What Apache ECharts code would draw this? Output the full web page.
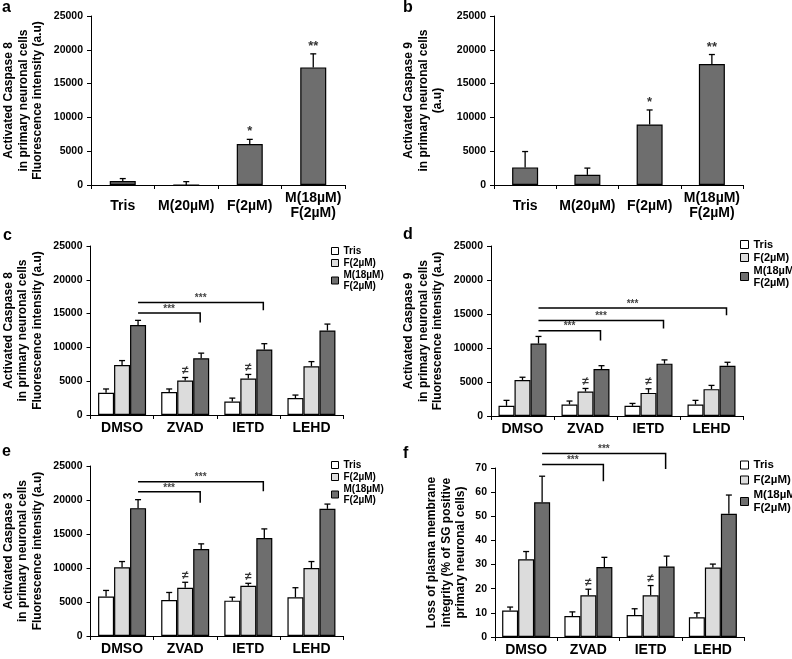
<!DOCTYPE html>
<html>
<head>
<meta charset="utf-8">
<script src="https://cdn.jsdelivr.net/npm/echarts@6/dist/echarts.min.js"></script>
<style>html,body{margin:0;padding:0;background:#fff;}#chart{width:792px;height:659px;}</style>
</head>
<body>
<div id="chart"></div>
<script>
// ---------- data ----------
const abCats = ['Tris', 'M(20µM)', 'F(2µM)', 'M(18µM)\nF(2µM)'];
const groupCats = ['DMSO', 'ZVAD', 'IETD', 'LEHD'];
const seriesNames = ['Tris', 'F(2µM)', 'M(18µM)\nF(2µM)'];
const casTicks = { min: 0, max: 25000, interval: 5000 };
const pctTicks = { min: 0, max: 70, interval: 10 };

const aVals = [600, 0, 6050, 17400];
const aErr = [350, 500, 700, 2000];
const aStars = ['', '', '*', '**'];
const bVals = [2600, 1500, 8950, 17900];
const bErr = [2350, 1000, 2150, 1400];
const bStars = ['', '', '*', '**'];

const cTris = [3300, 3400, 2000, 2500];
const cTrisErr = [550, 450, 500, 450];
const cF = [7400, 5100, 5400, 7200];
const cFErr = [650, 450, 600, 700];
const cM = [13300, 8400, 9700, 12500];
const cMErr = [700, 750, 850, 950];
const cBrackets = [[1, 15100, 13700], [2, 16650, 15500]];

const dTris = [1500, 1700, 1500, 1700];
const dTrisErr = [800, 500, 350, 600];
const dF = [5300, 3600, 3400, 3950];
const dFErr = [400, 450, 600, 550];
const dM = [10650, 6900, 7700, 7400];
const dMErr = [1050, 500, 550, 500];
const dBrackets = [[1, 12550, 11100], [2, 14050, 12850], [3, 15900, 14800]];

const eTris = [5800, 5300, 5200, 5700];
const eTrisErr = [900, 1100, 500, 1400];
const eF = [10100, 7100, 7400, 10000];
const eFErr = [850, 800, 350, 950];
const eM = [18800, 12800, 14400, 18700];
const eMErr = [1250, 750, 1350, 700];
const eBrackets = [[1, 21200, 19600], [2, 22700, 21300]];

const fTris = [11, 8.7, 9.1, 8.2];
const fTrisErr = [1.4, 1.7, 2.6, 1.8];
const fF = [32.2, 17.3, 17.3, 28.8];
const fFErr = [3.2, 2.5, 4.0, 1.4];
const fM = [55.8, 29.0, 29.2, 51.0];
const fMErr = [10.8, 4.0, 4.3, 7.8];
const fBrackets = [[1, 71.4, 64.5], [2, 76.0, 69.6]];

const neqGroups = [1, 2];

// ---------- style ----------
const FONT = '"Liberation Sans", Arial, sans-serif';
const DARK = '#6e6e6e', LIGHT = '#dcdcdc', WHITE = '#ffffff';
const seriesColors = [WHITE, LIGHT, DARK];
const BW = 16;   // grouped bar width
const BW1 = 26;  // single bar width

const grids = [
  { left: 91, top: 16, width: 254, height: 169 },
  { left: 494, top: 16, width: 249, height: 169 },
  { left: 90, top: 246, width: 253, height: 169 },
  { left: 491, top: 246, width: 252, height: 170 },
  { left: 90, top: 466, width: 253, height: 170 },
  { left: 495, top: 468, width: 249, height: 169 }
];

const yNames = [
  'Activated Caspase 8\nin primary neuronal cells\nFluorescence intensity (a.u)',
  'Activated Caspase 9\nin primary neuronal cells\n(a.u)',
  'Activated Caspase 8\nin primary neuronal cells\nFluorescence intensity (a.u)',
  'Activated Caspase 9\nin primary neuronal cells\nFluorescence intensity (a.u)',
  'Activated Caspase 3\nin primary neuronal cells\nFluorescence intensity (a.u)',
  'Loss of plasma membrane\nintegrity (% of SG positive\nprimary neuronal cells)'
];
const yGaps = [46, 49, 46, 46, 46, 27];
const yTicks = [casTicks, casTicks, casTicks, casTicks, casTicks, pctTicks];

const xAxes = [], yAxes = [], series = [];
for (let i = 0; i < 6; i++) {
  const single = i < 2;
  xAxes.push({
    type: 'category', gridIndex: i, data: single ? abCats : groupCats,
    axisLine: { lineStyle: { color: '#000', width: 1 } },
    axisTick: { show: true, length: 4, lineStyle: { color: '#000' } },
    axisLabel: {
      interval: 0, color: '#000', fontFamily: FONT, fontWeight: 'bold',
      fontSize: 14, lineHeight: 15, verticalAlign: 'middle', margin: single ? 21 : 13
    }
  });
  yAxes.push({
    type: 'value', gridIndex: i, min: yTicks[i].min, max: yTicks[i].max, interval: yTicks[i].interval,
    splitLine: { show: false },
    axisLine: { show: true, lineStyle: { color: '#000', width: 1 } },
    axisTick: { show: true, length: 4, lineStyle: { color: '#000' } },
    axisLabel: { color: '#000', fontFamily: FONT, fontWeight: 'bold', fontSize: 10.5, margin: 8,
      formatter: function (v) { return String(v); } },
    name: yNames[i], nameLocation: 'middle', nameRotate: 90, nameGap: yGaps[i],
    nameTextStyle: { color: '#000', fontFamily: FONT, fontWeight: 'bold', fontSize: 12, lineHeight: 14.5 }
  });
}

function errRender(bw, marks, markSize) {
  return function (params, api) {
    const g = api.value(0), v = api.value(1), e = api.value(2), off = api.value(3);
    const p0 = api.coord([g, v]);
    const p1 = api.coord([g, v + e]);
    const x = p0[0] + off * bw;
    const ch = [
      { type: 'line', shape: { x1: x, y1: p0[1], x2: x, y2: p1[1] }, style: { stroke: '#000', lineWidth: 1.3 } },
      { type: 'line', shape: { x1: x - 3, y1: p1[1], x2: x + 3, y2: p1[1] }, style: { stroke: '#000', lineWidth: 1.3 } }
    ];
    const m = marks[params.dataIndex];
    if (m) {
      ch.push({ type: 'text', style: { text: m, x: x, y: p1[1] - 1, align: 'center', verticalAlign: 'bottom',
        fill: '#333', fontFamily: FONT, fontWeight: 'bold', fontSize: markSize } });
    }
    return { type: 'group', children: ch };
  };
}

function bracketRender(bw) {
  return function (params, api) {
    const t = api.value(0), yl = api.value(1), yd = api.value(2);
    const s = api.coord([0, yl]);
    const e = api.coord([t, yl]);
    const d = api.coord([t, yd]);
    const x0 = s[0] + bw, x1 = e[0] + bw - 1;
    return {
      type: 'group', children: [
        { type: 'polyline', shape: { points: [[x0, s[1]], [x1, s[1]], [x1, d[1]]] }, style: { stroke: '#000', lineWidth: 1.5, fill: null } },
        { type: 'text', style: { text: '***', x: (x0 + x1) / 2, y: s[1] + 1, align: 'center', verticalAlign: 'bottom',
          fill: '#444', fontFamily: FONT, fontWeight: 'bold', fontSize: 10 } }
      ]
    };
  };
}

// single panels a, b
[[aVals, aErr, aStars], [bVals, bErr, bStars]].forEach(function (p, i) {
  series.push({
    type: 'bar', name: 'panel' + i, xAxisIndex: i, yAxisIndex: i, data: p[0], barWidth: BW1,
    itemStyle: { color: DARK, borderColor: '#000', borderWidth: 1.2 }, silent: true
  });
  series.push({
    type: 'custom', name: 'err' + i, xAxisIndex: i, yAxisIndex: i, clip: false, z: 5, silent: true,
    data: p[0].map(function (v, g) { return [g, v, p[1][g], 0]; }),
    renderItem: errRender(BW1, p[2], 13)
  });
});

// grouped panels c-f
const grouped = [
  [[cTris, cF, cM], [cTrisErr, cFErr, cMErr], cBrackets],
  [[dTris, dF, dM], [dTrisErr, dFErr, dMErr], dBrackets],
  [[eTris, eF, eM], [eTrisErr, eFErr, eMErr], eBrackets],
  [[fTris, fF, fM], [fTrisErr, fFErr, fMErr], fBrackets]
];
grouped.forEach(function (p, j) {
  const i = j + 2;
  const errData = [], marks = [];
  for (let k = 0; k < 3; k++) {
    series.push({
      type: 'bar', name: seriesNames[k], xAxisIndex: i, yAxisIndex: i, data: p[0][k],
      barWidth: BW, barGap: '0%', silent: true,
      itemStyle: { color: seriesColors[k], borderColor: '#000', borderWidth: 1.2 }
    });
    for (let g = 0; g < 4; g++) {
      errData.push([g, p[0][k][g], p[1][k][g], k - 1]);
      marks.push(k === 1 && neqGroups.indexOf(g) >= 0 ? '≠' : '');
    }
  }
  series.push({
    type: 'custom', name: 'err' + i, xAxisIndex: i, yAxisIndex: i, clip: false, z: 5, silent: true,
    data: errData, renderItem: errRender(BW, marks, 12)
  });
  series.push({
    type: 'custom', name: 'br' + i, xAxisIndex: i, yAxisIndex: i, clip: false, z: 5, silent: true,
    data: p[2], renderItem: bracketRender(BW)
  });
});

function legendAt(left, top, fs, lh, ih, gap) {
  return {
    data: seriesNames, orient: 'vertical', left: left, top: top, padding: 0,
    icon: 'rect', itemWidth: ih, itemHeight: ih, itemGap: gap, selectedMode: false,
    itemStyle: { borderColor: '#000', borderWidth: 1 },
    formatter: function (name) {
      return name.split('\n').map(function (s) { return '{t|' + s + '}'; }).join('\n');
    },
    textStyle: {
      color: '#000', fontFamily: FONT, fontWeight: 'bold', fontSize: fs,
      rich: { t: { color: '#000', fontFamily: FONT, fontWeight: 'bold', fontSize: fs, lineHeight: lh } }
    }
  };
}

const letters = [['a', 2, 9], ['b', 403, 9], ['c', 3, 237], ['d', 403, 236], ['e', 2, 453], ['f', 403, 455]];

const option = {
  animation: false,
  backgroundColor: '#fff',
  grid: grids,
  xAxis: xAxes,
  yAxis: yAxes,
  legend: [
    legendAt(331, 246, 10, 11, 7, 2),
    legendAt(740, 239, 11, 12, 8, 2),
    legendAt(331, 460, 10, 11, 7, 2),
    legendAt(740, 459, 11.5, 13, 8, 3)
  ],
  graphic: letters.map(function (l) {
    return { type: 'text', left: l[1], top: l[2] - 9, style: { text: l[0], fill: '#000',
      font: 'bold 16px ' + FONT } };
  }),
  series: series
};

const chart = echarts.init(document.getElementById('chart'), null, { renderer: 'canvas' });
chart.setOption(option);
</script>
</body>
</html>
